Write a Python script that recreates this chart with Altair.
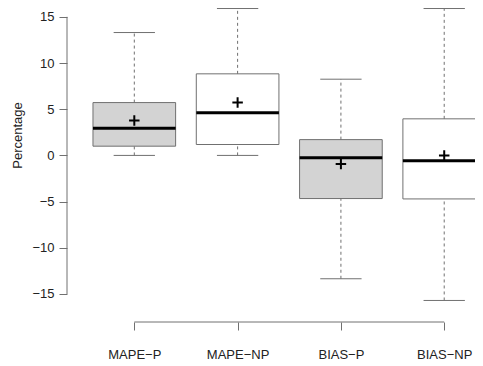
import altair as alt
import pandas as pd

categories = ["MAPE−P", "MAPE−NP", "BIAS−P", "BIAS−NP"]
lower = [0.0, 0.0, -13.35, -15.7]
q1 = [1.0, 1.18, -4.67, -4.71]
median = [2.93, 4.61, -0.25, -0.57]
q3 = [5.72, 8.83, 1.71, 3.96]
upper = [13.3, 15.9, 8.25, 15.9]
mean = [3.79, 5.72, -0.93, 0.0]
group = ["P", "NP", "P", "NP"]
y_ticks = [-15, -10, -5, 0, 5, 10, 15]

positions = list(range(1, len(categories) + 1))
df = pd.DataFrame({
    "cat": categories, "pos": positions, "lower": lower, "q1": q1,
    "median": median, "q3": q3, "upper": upper, "mean": mean, "group": group,
})
df["bl"] = df["pos"] - 0.4
df["br"] = df["pos"] + 0.4
df["cl"] = df["pos"] - 0.2
df["cr"] = df["pos"] + 0.2

x_dom = [0.3485, 4.298]
y_dom = [-18.031, 15.956]

font = "Liberation Sans"
gray = "#707070"

label_expr = " : ".join(
    [f"datum.value == {p} ? '{c}'" for p, c in zip(positions, categories)]
) + " : ''"

xs = alt.Scale(domain=x_dom, nice=False, zero=False)
ys = alt.Scale(domain=y_dom, nice=False, zero=False)

x_axis = alt.Axis(
    values=positions, labelExpr=label_expr, domain=False, grid=False,
    tickColor=gray, tickSize=8, labelFont=font, labelFontSize=13,
    labelColor="#222", labelPadding=18, title=None)
y_axis = alt.Axis(
    values=y_ticks, domain=False, grid=False, tickColor=gray, tickSize=8,
    labelFont=font, labelFontSize=13, labelColor="#222", labelPadding=5,
    title="Percentage", titleFont=font, titleFontSize=13,
    titleFontWeight="normal", titleColor="#222", titleAngle=270,
    titleX=-45.5, titleY=127, titleAlign="center",
    titleBaseline="alphabetic")


def X(f):
    return alt.X(f, scale=xs, axis=x_axis)


def Y(f):
    return alt.Y(f, scale=ys, axis=y_axis)


base = alt.Chart(df)

boxes = base.mark_rect(stroke=gray, strokeWidth=1).encode(
    x=X("bl:Q"), x2="br:Q", y=Y("q1:Q"), y2="q3:Q",
    fill=alt.Fill("group:N", scale=alt.Scale(domain=["P", "NP"],
                                             range=["#d3d3d3", "#ffffff"]),
                  legend=None),
)

whisk_up = base.mark_rule(color=gray, strokeWidth=1, strokeDash=[3, 3]).encode(
    x=X("pos:Q"), y=Y("q3:Q"), y2="upper:Q")
whisk_lo = base.mark_rule(color=gray, strokeWidth=1, strokeDash=[3, 3]).encode(
    x=X("pos:Q"), y=Y("lower:Q"), y2="q1:Q")
cap_up = base.mark_rule(color=gray, strokeWidth=1).encode(
    x=X("cl:Q"), x2="cr:Q", y=Y("upper:Q"))
cap_lo = base.mark_rule(color=gray, strokeWidth=1).encode(
    x=X("cl:Q"), x2="cr:Q", y=Y("lower:Q"))
med = base.mark_rule(color="black", strokeWidth=3).encode(
    x=X("bl:Q"), x2="br:Q", y=Y("median:Q"))
mean_pt = base.mark_point(shape="M-1,0L1,0M0,-1L0,1", filled=False,
                          color="black", strokeWidth=2, size=110,
                          opacity=1).encode(
    x=X("pos:Q"), y=Y("mean:Q"))

xaxis_df = pd.DataFrame({"xa": [positions[0]], "xb": [positions[-1]],
                         "ya": [y_dom[0]]})
xaxis_line = alt.Chart(xaxis_df).mark_rule(color=gray, strokeWidth=1).encode(
    x=X("xa:Q"), x2="xb:Q", y=Y("ya:Q"))
yaxis_df = pd.DataFrame({"xa": [x_dom[0]], "ya": [y_ticks[0]],
                         "yb": [y_ticks[-1]]})
yaxis_line = alt.Chart(yaxis_df).mark_rule(color=gray, strokeWidth=1).encode(
    x=X("xa:Q"), y=Y("ya:Q"), y2="yb:Q")

chart = alt.layer(
    boxes, whisk_up, whisk_lo, cap_up, cap_lo, med, mean_pt,
    xaxis_line, yaxis_line
).properties(
    width=408, height=314,
    background="white",
    autosize=alt.AutoSizeParams(type="none"),
    padding={"left": 59, "top": 0, "right": 0, "bottom": 43},
).configure_view(strokeWidth=0, stroke="transparent").configure_axis(
    domain=False, grid=False
)

chart.save("out.html", embed_options={"renderer": "svg", "actions": False})
